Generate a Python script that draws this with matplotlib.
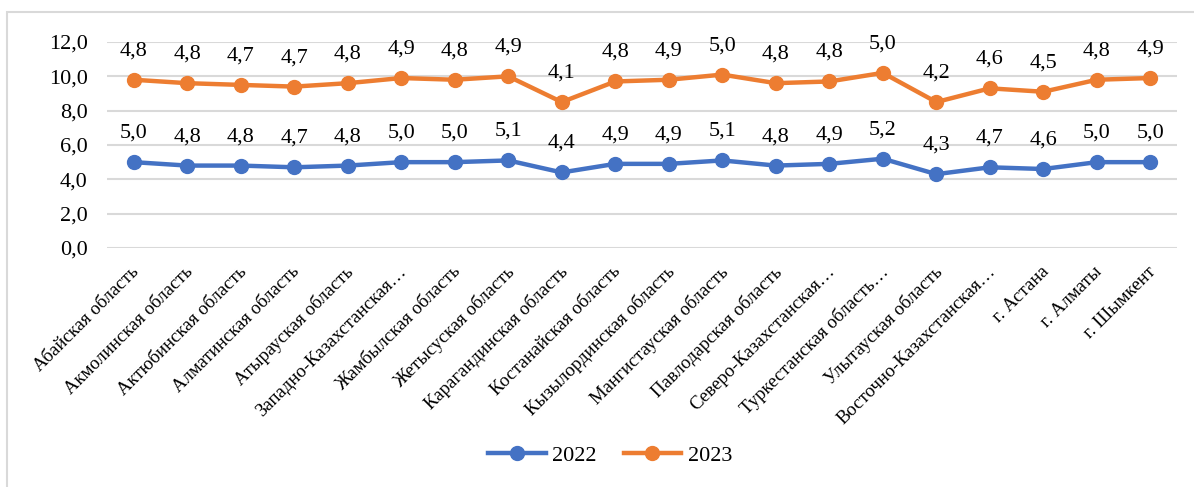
import matplotlib
matplotlib.use("Agg")
from matplotlib import pyplot as plt
from matplotlib.patches import Rectangle
from matplotlib.transforms import ScaledTranslation, blended_transform_factory
import numpy as np

plt.rcParams['font.family'] = ['Liberation Serif', 'DejaVu Serif']

regions = ["Абайская область", "Акмолинская область", "Актюбинская область",
           "Алматинская область", "Атырауская область", "Западно-Казахстанская…",
           "Жамбылская область", "Жетысуская область", "Карагандинская область",
           "Костанайская область", "Кызылординская область", "Мангистауская область",
           "Павлодарская область", "Северо-Казахстанская…", "Туркестанская область…",
           "Улытауская область", "Восточно-Казахстанская…", "г. Астана", "г. Алматы",
           "г. Шымкент"]
vals_2022 = [5.0, 4.8, 4.8, 4.7, 4.8, 5.0, 5.0, 5.1, 4.4, 4.9,
             4.9, 5.1, 4.8, 4.9, 5.2, 4.3, 4.7, 4.6, 5.0, 5.0]
vals_2023 = [4.8, 4.8, 4.7, 4.7, 4.8, 4.9, 4.8, 4.9, 4.1, 4.8,
             4.9, 5.0, 4.8, 4.8, 5.0, 4.2, 4.6, 4.5, 4.8, 4.9]

blue = "#4472C4"
orange = "#ED7D31"

x = np.arange(len(regions))
s2022 = np.array(vals_2022)
s2023 = s2022 + np.array(vals_2023)  # stacked line

fig = plt.figure(figsize=(11.94, 4.87), dpi=100)
fig.patches.append(Rectangle((7/1194, -0.1), 1.2, 1 - 12/487 + 0.1, transform=fig.transFigure,
                             fill=False, edgecolor="#d9d9d9", linewidth=1.5))
ax = fig.add_axes([0.0896, 0.4908, 0.8962, 0.4230])

ax.plot(x, s2022, color=blue, lw=3.2, marker='o', ms=10, label="2022", zorder=3)
ax.plot(x, s2023, color=orange, lw=3.2, marker='o', ms=10, label="2023", zorder=3)

for xi, y, v in zip(x, s2022, vals_2022):
    ax.annotate(f"{v:.1f}".replace(".", ","), (xi, y), xytext=(0, 14), textcoords='offset points',
                ha='center', va='bottom', fontsize=16)
for xi, y, v in zip(x, s2023, vals_2023):
    ax.annotate(f"{v:.1f}".replace(".", ","), (xi, y), xytext=(0, 14), textcoords='offset points',
                ha='center', va='bottom', fontsize=16)

ax.set_xlim(-0.5, len(regions) - 0.5)
ax.set_ylim(0, 12)
ax.set_yticks(np.arange(0, 13, 2))
ax.set_yticklabels([f"{t:.1f}".replace(".", ",") for t in np.arange(0, 13, 2)], fontsize=16)
ax.set_xticks(x)
ax.set_xticklabels([])

# category labels, placed like Excel's rotated labels
lbl_trans = blended_transform_factory(ax.transData, ax.transAxes) + \
    ScaledTranslation(-3/100, -15/100, fig.dpi_scale_trans)
for xi, name in zip(x, regions):
    ax.text(xi, 0, name, transform=lbl_trans, rotation=45, ha='right', va='top',
            rotation_mode='anchor', fontsize=13.5)

ax.tick_params(axis='both', length=0)
ax.tick_params(axis='y', pad=14)
ax.yaxis.grid(True, color="#d9d9d9", lw=1.5)
ax.set_axisbelow(True)
for sp in ax.spines.values():
    sp.set_visible(False)

fig.legend(loc='center', bbox_to_anchor=(0.511, 0.064), ncol=2, frameon=False,
           fontsize=16, handlelength=2.6, columnspacing=1.2, handletextpad=0.3)

fig.savefig("out.png", dpi=100)
